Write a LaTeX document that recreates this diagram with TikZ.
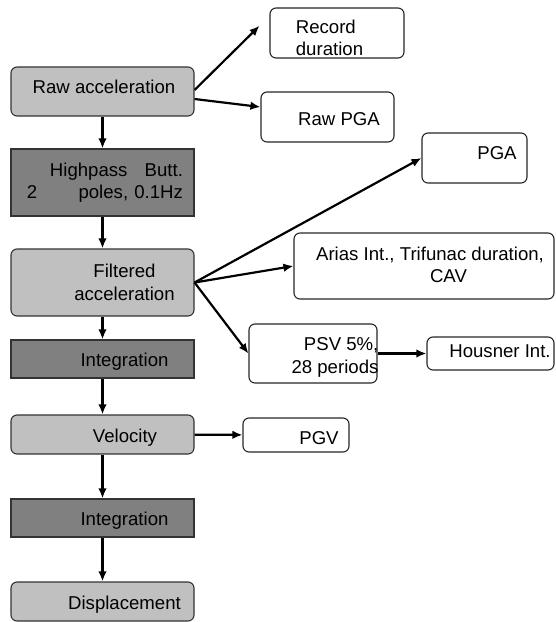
\documentclass[tikz,border=0pt]{standalone}
\usepackage{fontspec}
\setmainfont{Liberation Sans}
\usetikzlibrary{arrows.meta}
\definecolor{datagrey}{RGB}{192,192,192}
\definecolor{procgrey}{RGB}{128,128,128}
\tikzset{
  databox/.style={draw=black!80, line width=1.1pt, fill=datagrey, rounded corners=6pt, minimum width=183pt, inner sep=0pt},
  procbox/.style={draw=black!80, line width=1.1pt, fill=procgrey, minimum width=183pt, inner sep=0pt},
  outbox/.style={draw=black!85, line width=1.1pt, fill=white, rounded corners=6pt, inner sep=0pt},
  flow/.style={line width=2.2pt, -{Latex[length=10pt,width=8.5pt]}},
}
\begin{document}
\begin{tikzpicture}[x=1pt,y=-1pt,font=\fontsize{18.6}{22.5}\selectfont]
\useasboundingbox (0,0) rectangle (555,622);
% processing chain
\node[databox, minimum height=49, label={[xshift=1.5pt,yshift=5pt]center:Raw acceleration}] (raw) at (102.5,91.5) {};
\node[procbox, minimum height=67, label={[align=left,text width=156pt,xshift=2.5pt]center:{\hspace*{23pt}Highpass\hfill Butt.\\2\hfill poles, 0.1Hz\hspace*{8pt}}}] (high) at (102.5,182.5) {};
\node[databox, minimum height=67, label={[align=center,xshift=22pt]center:{Filtered\\acceleration}}] (filt) at (102.5,282.5) {};
\node[procbox, minimum height=38, label={[xshift=22pt,yshift=-3pt]center:Integration}] (intv) at (102.5,359) {};
\node[databox, minimum height=39, label={[xshift=22.5pt,yshift=-3.4pt]center:Velocity}] (vel) at (102.5,434.5) {};
\node[procbox, minimum height=38, label={[xshift=22pt,yshift=-3pt]center:Integration}] (intd) at (102.5,518) {};
\node[databox, minimum height=39, label={[xshift=22pt,yshift=-3.4pt]center:Displacement}] (disp) at (102.5,601.5) {};
% derived quantities
\node[outbox, minimum width=134, minimum height=50, label={[align=left,xshift=-7.5pt,yshift=-5pt]center:{Record\\duration}}] (rec) at (337,33) {};
\node[outbox, minimum width=133, minimum height=50, label={[xshift=11.5pt,yshift=-2.5pt]center:Raw PGA}] (rpga) at (327.5,117) {};
\node[outbox, minimum width=105, minimum height=50, label={[xshift=22.5pt,yshift=5pt]center:PGA}] (pga) at (474.5,158) {};
\node[outbox, minimum width=260, minimum height=66, label={[align=center,xshift=6pt,yshift=1.2pt]center:{Arias Int., Trifunac duration,\\\hspace*{37pt}CAV}}] (arias) at (424,266) {};
\node[outbox, minimum width=128, minimum height=59, label={[align=right,xshift=22pt,yshift=-4pt]center:{PSV 5\%,\\28 periods}}] (psv) at (313,353.5) {};
\node[outbox, minimum width=127, minimum height=33, label={[xshift=9.5pt,yshift=2pt]center:Housner Int.}] (hous) at (490.5,353.5) {};
\node[outbox, minimum width=106, minimum height=34, label={[xshift=23pt,yshift=-3pt]center:PGV}] (pgv) at (296,435) {};
% connectors
\draw[flow] (raw) -- (high);
\draw[flow] (high) -- (filt);
\draw[flow] (filt) -- (intv);
\draw[flow] (intv) -- (vel);
\draw[flow] (vel) -- (intd);
\draw[flow] (intd) -- (disp);
\draw[flow, shorten >=14pt] ([yshift=1.5pt]raw.east) -- ([yshift=17pt]rec.west);
\draw[flow] ([yshift=-7.5pt]raw.east) -- ([yshift=10pt]rpga.west);
\draw[flow] (filt.east) -- (pga.west);
\draw[flow] (filt.east) -- (arias.west);
\draw[flow] (filt.east) -- (psv.west);
\draw[flow] (psv) -- (hous);
\draw[flow] (vel) -- (pgv);
\end{tikzpicture}
\end{document}
